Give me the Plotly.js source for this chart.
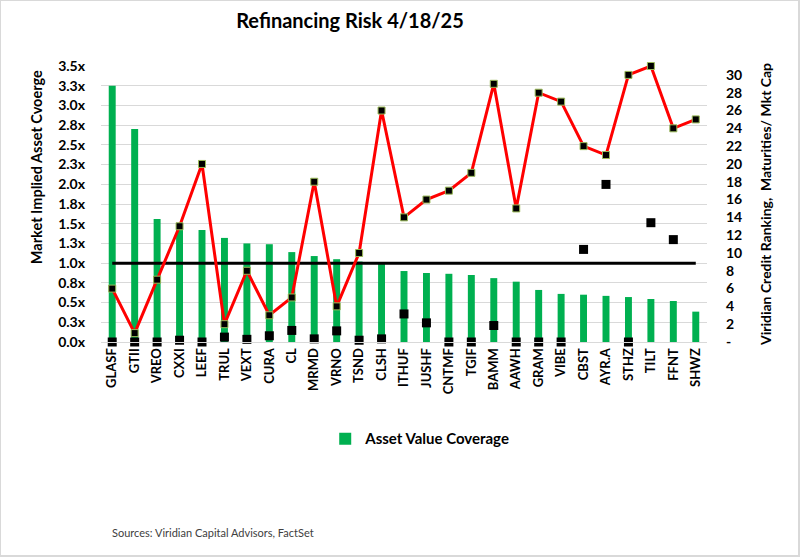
<!DOCTYPE html>
<html>
<head>
<meta charset="utf-8">
<script src="https://cdn.plot.ly/plotly-3.0.1.min.js"></script>
<style>
  html, body { margin: 0; padding: 0; background: #fff; }
  #wrap { position: relative; width: 800px; height: 557px; }
  #chart { width: 800px; height: 557px; }
  #frame { position: absolute; left: 0; top: 0; width: 800px; height: 557px; box-sizing: border-box; border: 1px solid #d9d9d9; border-right-width: 2px; border-bottom-width: 2px; pointer-events: none; }
</style>
</head>
<body>
<div id="wrap"><div id="chart"></div><div id="frame"></div></div>
<script>
// ---- data ----
const categories = ["GLASF","GTII","VREO","CXXI","LEEF","TRUL","VEXT","CURA","CL","MRMD","VRNO","TSND","CLSH","ITHUF","JUSHF","CNTMF","TGIF","BAMM","AAWH","GRAM","VIBE","CBST","AYR.A","STHZ","TILT","FFNT","SHWZ"];
const assetValueCoverage = [3.25,2.70,1.56,1.47,1.42,1.32,1.25,1.24,1.14,1.09,1.05,1.02,0.99,0.90,0.875,0.865,0.85,0.81,0.765,0.66,0.61,0.60,0.585,0.57,0.545,0.52,0.385];
const creditRanking = [6,1,7,13,20,2,8,3,5,18,4,10,26,14,16,17,19,29,15,28,27,22,21,30,31,24,25];
const maturitiesMktCap = [0,0,0,0.2,0,0.55,0.3,0.7,1.3,0.35,1.25,0.2,0.35,3.15,2.15,0,0,1.85,0,0,0,10.4,17.7,0,13.4,11.5,null];
const threshold = 1.0;
const leftTickVals = [0,0.25,0.5,0.75,1,1.25,1.5,1.75,2,2.25,2.5,2.75,3,3.25,3.5];
const leftTickText = ["0.0x","0.3x","0.5x","0.8x","1.0x","1.3x","1.5x","1.8x","2.0x","2.3x","2.5x","2.8x","3.0x","3.3x","3.5x"];
const rightTickVals = [0,2,4,6,8,10,12,14,16,18,20,22,24,26,28,30];
const rightTickText = ["-","2","4","6","8","10","12","14","16","18","20","22","24","26","28","30"];

const FONT = "Lato, 'Open Sans', sans-serif";

const traces = [
  {
    type: "bar", name: "Asset Value Coverage",
    x: categories, y: assetValueCoverage, yaxis: "y",
    marker: { color: "#00B050" }, showlegend: true
  },
  {
    type: "scatter", mode: "lines", name: "Threshold",
    x: categories, y: categories.map(() => threshold), yaxis: "y",
    line: { color: "#000000", width: 3 }, showlegend: false
  },
  {
    type: "scatter", mode: "lines+markers", name: "Viridian Credit Ranking",
    x: categories, y: creditRanking, yaxis: "y2",
    line: { color: "#FF0000", width: 3 },
    marker: { symbol: "square", size: 7, color: "#000000", line: { color: "#9BBB59", width: 1 } },
    showlegend: false, cliponaxis: false
  },
  {
    type: "scatter", mode: "markers", name: "Maturities/ Mkt Cap",
    x: categories, y: maturitiesMktCap, yaxis: "y2",
    marker: { symbol: "square", size: 9, color: "#000000" },
    showlegend: false, cliponaxis: false
  }
];

const layout = {
  width: 800, height: 557,
  margin: { l: 101, r: 93, t: 66, b: 215 },
  paper_bgcolor: "#ffffff", plot_bgcolor: "#ffffff",
  font: { family: FONT, color: "#000000" },
  title: {
    text: "<b>Refinancing Risk 4/18/25</b>",
    font: { family: FONT, size: 20, color: "#000000" },
    x: 0.4375, xref: "container", xanchor: "center",
    y: 0.962, yref: "container", yanchor: "middle"
  },
  bargap: 0.69,
  xaxis: {
    type: "category",
    range: [-0.5, categories.length - 0.5],
    tickangle: -90,
    tickfont: { family: FONT, size: 13, color: "#000000", weight: "bold" },
    showgrid: false, showline: true, linecolor: "#d9d9d9", linewidth: 1,
    ticks: "", zeroline: false
  },
  yaxis: {
    range: [0, 3.5],
    tickvals: leftTickVals, ticktext: leftTickText,
    tickfont: { family: FONT, size: 14, color: "#000000", weight: "bold" },
    showgrid: true, gridcolor: "#d9d9d9", gridwidth: 1,
    zeroline: false, showline: false, ticks: "",
    ticklabelstandoff: 15
  },
  yaxis2: {
    overlaying: "y", side: "right",
    range: [0, 31],
    tickvals: rightTickVals, ticktext: rightTickText,
    tickfont: { family: FONT, size: 14, color: "#000000", weight: "bold" },
    showgrid: false, zeroline: false, showline: false, ticks: "",
    ticklabelstandoff: 18,
    title: {
      text: "<b>Viridian Credit Ranking,  Maturities/ Mkt Cap</b>",
      font: { family: FONT, size: 14, color: "#000000" },
      standoff: 19
    }
  },
  showlegend: true,
  legend: {
    orientation: "h",
    x: 0.37, xanchor: "left",
    y: -0.351, yanchor: "middle",
    font: { family: FONT, size: 15, color: "#000000", weight: "bold" },
    bgcolor: "rgba(0,0,0,0)"
  },
  annotations: [
    {
      text: "<b>Market Implied Asset Cvoerge</b>",
      xref: "paper", yref: "paper",
      x: -0.107, y: 0.634, xanchor: "center", yanchor: "middle",
      textangle: -90, showarrow: false,
      font: { family: FONT, size: 14.5, color: "#000000" }
    },
    {
      text: "Sources: Viridian Capital Advisors, FactSet",
      xref: "paper", yref: "paper",
      x: 0.015, y: -0.692, xanchor: "left", yanchor: "middle",
      showarrow: false,
      font: { family: FONT, size: 11, color: "#404040" }
    }
  ]
};

Plotly.newPlot("chart", traces, layout, { displayModeBar: false, staticPlot: true });
</script>
</body>
</html>
